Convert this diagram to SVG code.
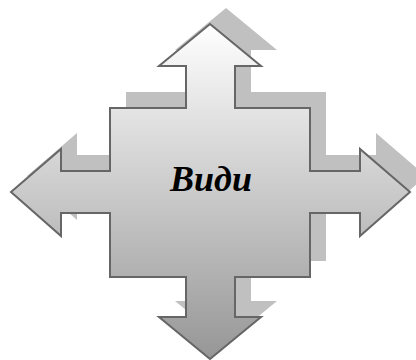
<svg xmlns="http://www.w3.org/2000/svg" width="416" height="360" viewBox="0 0 416 360">
<defs>
<linearGradient id="g" x1="0" y1="24" x2="0" y2="359" gradientUnits="userSpaceOnUse">
<stop offset="0" stop-color="#ffffff"/>
<stop offset="1" stop-color="#969696"/>
</linearGradient>
<path id="shape" d="M210,24 L261,66 L235,66 L235,108 L310,108 L310,171 L360,171 L360,149 L410,192 L360,236 L360,213 L310,213 L310,277 L235,277 L235,317 L261,317 L210,359 L159,317 L186,317 L186,277 L110,277 L110,213 L61,213 L61,236 L11,192 L61,149 L61,171 L110,171 L110,108 L186,108 L186,66 L159,66 Z"/>
</defs>
<style>
.shadow{fill:#c0c0c0}
.main{fill:url(#g);stroke:#666666;stroke-width:2;stroke-linejoin:miter}
.lbl{font-family:"Liberation Serif","Times New Roman",serif;font-weight:bold;font-style:italic;font-size:36px;fill:#000}
</style>
<g id="arrows">
<use href="#shape" class="shadow" transform="translate(16,-16)"/>
<use href="#shape" class="main"/>
<text class="lbl" x="211" y="191" text-anchor="middle">Види</text>
</g>
</svg>
